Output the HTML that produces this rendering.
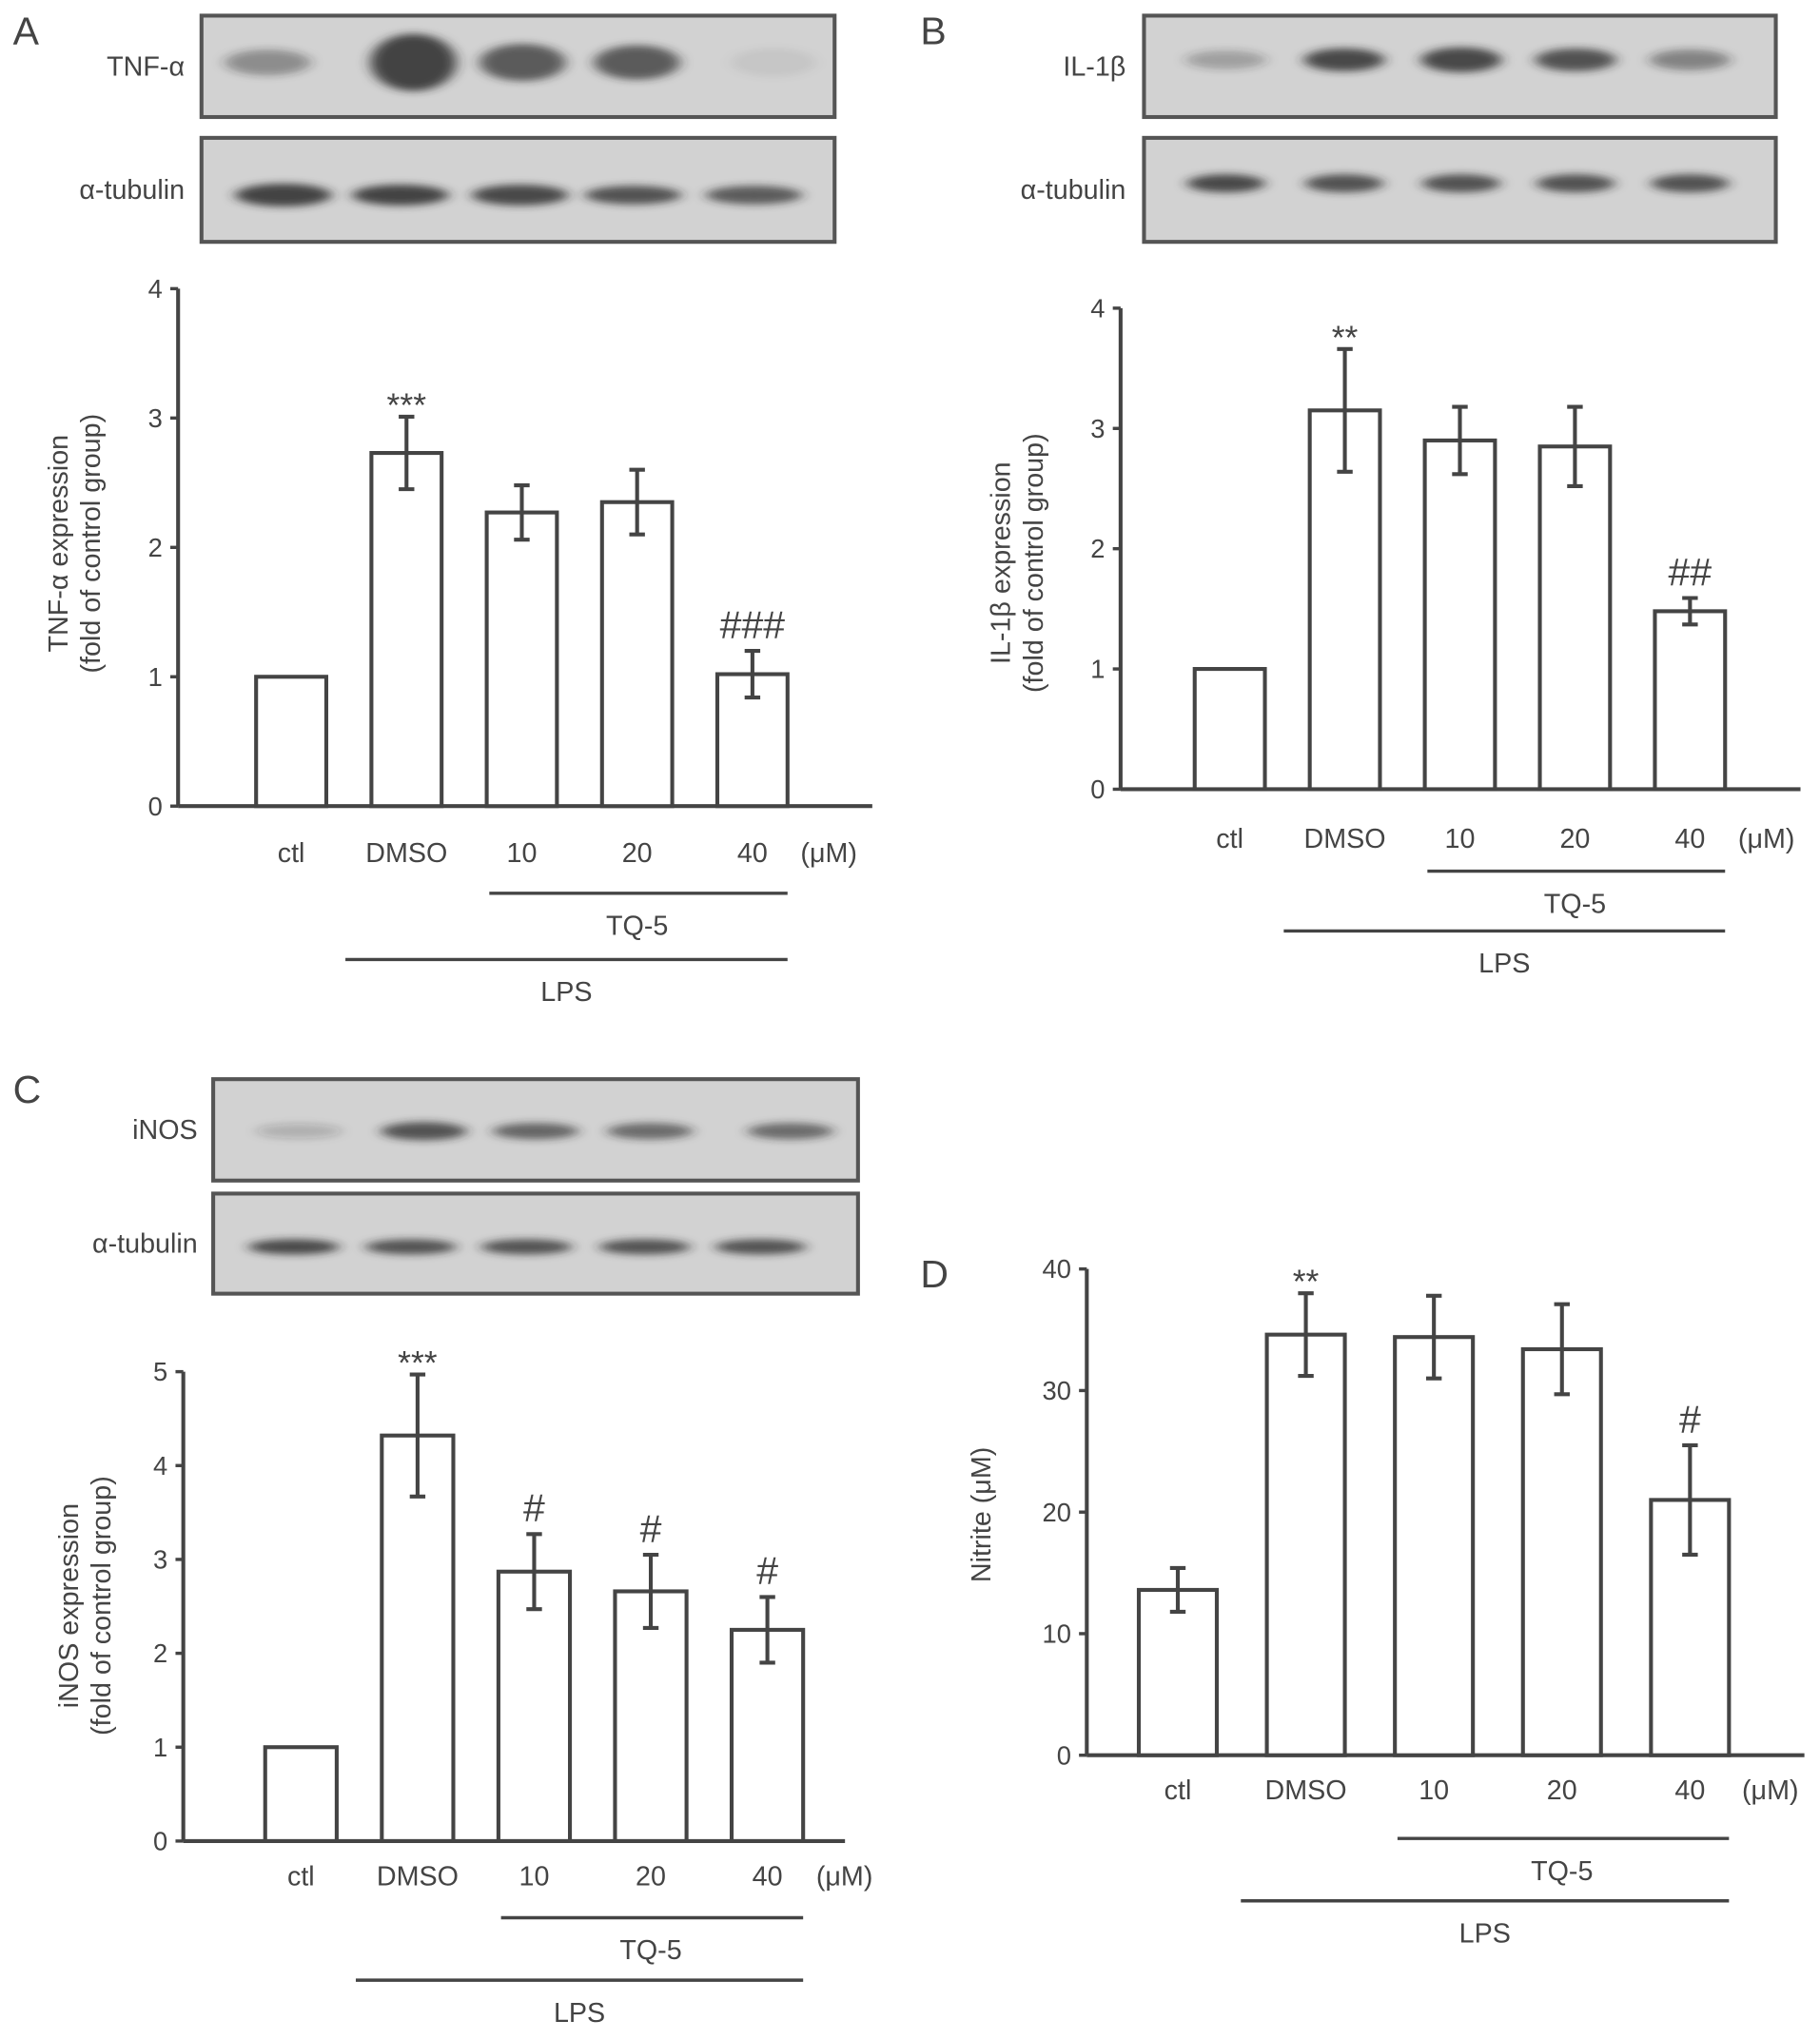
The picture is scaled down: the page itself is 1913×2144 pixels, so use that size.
<!DOCTYPE html>
<html><head><meta charset="utf-8"><style>
html,body{margin:0;padding:0;background:#fff}
svg{display:block}
text{font-family:"Liberation Sans",sans-serif;fill:#444}
</style></head><body>
<svg id="fig" width="1913" height="2144" viewBox="0 0 1400 1569" xmlns="http://www.w3.org/2000/svg">
<defs>
<filter id="blur" x="-50%" y="-100%" width="200%" height="300%"><feGaussianBlur stdDeviation="5 3"/></filter>
</defs>
<g id="root"></g>
</svg>
<script>
// ---- data ----
const categories = ["ctl","DMSO","10","20","40"];
const aValues = [1, 2.73, 2.27, 2.35, 1.02];
const aErrors = [0, 0.28, 0.21, 0.25, 0.18];
const aMarks = ["", "***", "", "", "###"];
const aTicks = [0,1,2,3,4];
const bValues = [1, 3.15, 2.9, 2.85, 1.48];
const bErrors = [0, 0.51, 0.28, 0.33, 0.11];
const bMarks = ["", "**", "", "", "##"];
const bTicks = [0,1,2,3,4];
const cValues = [1, 4.32, 2.87, 2.66, 2.25];
const cErrors = [0, 0.65, 0.40, 0.39, 0.35];
const cMarks = ["", "***", "#", "#", "#"];
const cTicks = [0,1,2,3,4,5];
const dValues = [13.6, 34.6, 34.4, 33.4, 21.0];
const dErrors = [1.8, 3.4, 3.4, 3.7, 4.5];
const dMarks = ["", "**", "", "", "#"];
const dTicks = [0,10,20,30,40];

const NS="http://www.w3.org/2000/svg";
const root=document.getElementById('root');
function mk(tag,attrs,parent){const e=document.createElementNS(NS,tag);for(const k in attrs)e.setAttribute(k,attrs[k]);(parent||root).appendChild(e);return e;}
function txt(x,y,s,size,parent,anchor){const t=mk('text',{x:x,y:y,'font-size':size,'text-anchor':anchor||'middle'},parent);t.textContent=s;return t;}

function chart(cfg){
  const g=mk('g',{});
  
  
  const ymax=cfg.ticks[cfg.ticks.length-1];
  const Y=v=>cfg.y0-(cfg.y0-cfg.yTop)*v/ymax;
  const ax=mk('line',{x1:cfg.ax,y1:cfg.yTop,x2:cfg.ax,y2:cfg.y0,stroke:'#444','stroke-width':3},g);
  
  
  const bl=mk('line',{x1:cfg.ax,y1:cfg.y0,x2:cfg.axEnd,y2:cfg.y0,stroke:'#444','stroke-width':3},g);
  
  
  cfg.ticks.forEach(t=>{
    mk('line',{x1:cfg.ax-6,y1:Y(t),x2:cfg.ax,y2:Y(t),stroke:'#444','stroke-width':2.5},g);
    const tl=txt(cfg.ax-12,Y(t)+7,String(t),20,g,'end');
    
    
  });
  cfg.values.forEach((v,i)=>{
    const x=cfg.bar0+i*cfg.step, cx=x+cfg.bw/2;
    const r=mk('rect',{x:x,y:Y(v),width:cfg.bw,height:cfg.y0-Y(v),fill:'#fff',stroke:'#444','stroke-width':3},g);
    
    
    const e=cfg.errors[i];
    if(e>0){
      const eb=mk('path',{d:`M${cx},${Y(v+e)}V${Y(v-e)}M${cx-6},${Y(v+e)}H${cx+6}M${cx-6},${Y(v-e)}H${cx+6}`,stroke:'#444','stroke-width':3,fill:'none'},g);
      
      
    }
    if(cfg.marks[i]){
      const top=Y(v+e);
      const star=cfg.marks[i][0]==='*';
      const m=txt(cx,star?top-0:top-10,cfg.marks[i],star?26:30,g);
      
      
    }
    const lab=txt(cx,cfg.labY,categories[i],21,g);
    
    
  });
  const last=cfg.bar0+4*cfg.step+cfg.bw;
  const um=txt(last+10,cfg.labY,'(μM)',21,g,'start');
  
  
  const x10=cfg.bar0+2*cfg.step, x1=cfg.bar0+cfg.step-20;
  mk('line',{x1:x10+2,y1:cfg.tqY,x2:last,y2:cfg.tqY,stroke:'#444','stroke-width':2.5},g);
  const tq=txt((x10+last)/2,cfg.tqY+32,'TQ-5',21,g);
  
  
  mk('line',{x1:x1,y1:cfg.lpsY,x2:last,y2:cfg.lpsY,stroke:'#444','stroke-width':2.5},g);
  const lp=txt((x1+last)/2,cfg.lpsY+32,'LPS',21,g);
  
  
  const yl=mk('g',{transform:`translate(${cfg.ylX},${cfg.ylY}) rotate(-90)`},g);
  
  
  cfg.ylab.forEach((s,k)=>txt(0,k*25,s,21,yl));
}

function blot(name,x,y,w,h,label,lx,bands,bandY,bw,bh){
  const g=mk('g',{});
  
  
  mk('rect',{x:x,y:y,width:w,height:h,fill:'#d2d2d2',stroke:'#555','stroke-width':3},g);
  bands.forEach(b=>{
    mk('ellipse',{cx:b[0],cy:bandY,rx:bw/2,ry:bh*b[2],fill:`rgba(40,40,40,${b[1]})`,filter:'url(#blur)'},g);
  });
  txt(lx,y+h/2+7,label,21,g,'end');
}

// Panel letters
[['A',10,34],['B',708,34],['C',10,848],['D',708,990]].forEach(p=>{const t=txt(p[1],p[2],p[0],30,null,'start');});

// Blots
blot('blot-tnf',155,12,487,78,'TNF-α',142,[[206,0.4,0.45],[318,0.85,1.0],[402,0.7,0.65],[490,0.7,0.6],[595,0.06,0.5]],48,66,22);
blot('blot-tubulin-a',155,106,487,80,'α-tubulin',142,[[218,0.85,0.55],[308,0.85,0.5],[400,0.8,0.5],[487,0.75,0.45],[580,0.7,0.45]],150,74,16);
blot('blot-il1b',880,12,486,78,'IL-1β',866,[[943,0.3,0.45],[1034,0.8,0.55],[1124,0.8,0.6],[1212,0.75,0.55],[1300,0.45,0.5]],46,62,16);
blot('blot-tubulin-b',880,106,486,80,'α-tubulin',866,[[943,0.8,0.5],[1034,0.75,0.5],[1124,0.75,0.5],[1212,0.75,0.5],[1300,0.75,0.5]],141,60,14);
blot('blot-inos',164,830,496,78,'iNOS',152,[[230,0.2,0.4],[326,0.75,0.5],[412,0.65,0.45],[500,0.6,0.45],[608,0.6,0.45]],870,66,14);
blot('blot-tubulin-c',164,918,496,77,'α-tubulin',152,[[226,0.8,0.45],[316,0.75,0.45],[405,0.75,0.45],[496,0.75,0.45],[585,0.75,0.45]],959,70,13);

chart({name:'chart-a',values:aValues,errors:aErrors,marks:aMarks,ticks:aTicks,ax:137,axEnd:671,y0:620,yTop:222,bar0:197,bw:54,step:88.7,labY:663,tqY:687,lpsY:738,ylX:52,ylY:418,ylab:['TNF-α expression','(fold of control group)']});
chart({name:'chart-b',values:bValues,errors:bErrors,marks:bMarks,ticks:bTicks,ax:862,axEnd:1385,y0:607,yTop:237,bar0:919,bw:54,step:88.5,labY:652,tqY:670,lpsY:716,ylX:777,ylY:433,ylab:['IL-1β expression','(fold of control group)']});
chart({name:'chart-c',values:cValues,errors:cErrors,marks:cMarks,ticks:cTicks,ax:141,axEnd:650,y0:1416,yTop:1055,bar0:204,bw:55,step:89.7,labY:1450,tqY:1475,lpsY:1523,ylX:60,ylY:1235,ylab:['iNOS expression','(fold of control group)']});
chart({name:'chart-d',values:dValues,errors:dErrors,marks:dMarks,ticks:dTicks,ax:836,axEnd:1388,y0:1350,yTop:976,bar0:876,bw:60,step:98.5,labY:1384,tqY:1414,lpsY:1462,ylX:762,ylY:1165,ylab:['Nitrite (μM)']});
</script>
</body></html>
